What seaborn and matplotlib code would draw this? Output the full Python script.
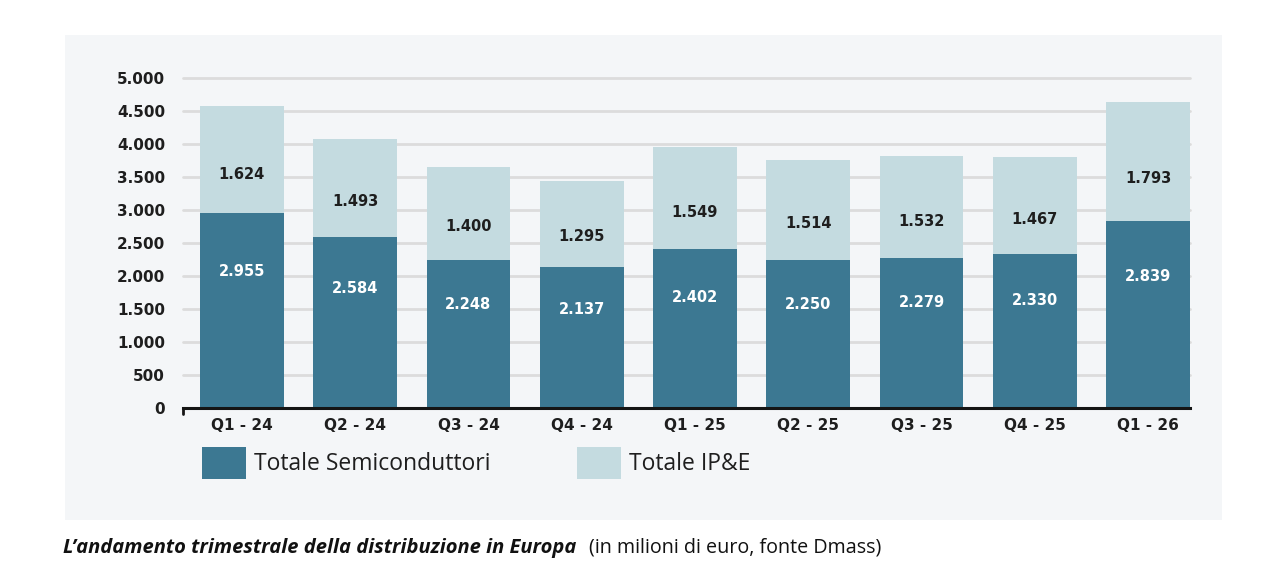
import matplotlib
matplotlib.use("Agg")
import matplotlib.pyplot as plt
from matplotlib.patches import Patch, Rectangle
from matplotlib.lines import Line2D
import seaborn as sns
import pandas as pd

# ---- data ----
quarters = ["Q1 - 24", "Q2 - 24", "Q3 - 24", "Q4 - 24", "Q1 - 25",
            "Q2 - 25", "Q3 - 25", "Q4 - 25", "Q1 - 26"]
semiconduttori = [2955, 2584, 2248, 2137, 2402, 2250, 2279, 2330, 2839]
ipe = [1624, 1493, 1400, 1295, 1549, 1514, 1532, 1467, 1793]
y_ticks = [0, 500, 1000, 1500, 2000, 2500, 3000, 3500, 4000, 4500, 5000]
series_names = ["Totale Semiconduttori", "Totale IP&E"]
caption_main = "L\u2019andamento trimestrale della distribuzione in Europa"
caption_note = "(in milioni di euro, fonte Dmass)"

DARK = "#3c7892"
LIGHT = "#c4dbe0"
PANEL = "#f4f6f8"
GRID = "#dcdcdc"
TXT = "#1e1e1e"

sns.set_theme(style="white")
plt.rcParams["font.family"] = ["DejaVu Sans"]

def fmt(v):
    return f"{v:,}".replace(",", ".")

df = pd.DataFrame({"quarter": quarters, "semi": semiconduttori, "ipe": ipe})
df["total"] = df["semi"] + df["ipe"]

fig = plt.figure(figsize=(12.66, 5.82), dpi=100)
fig.patch.set_facecolor("white")
panel = Rectangle((65 / 1266, 1 - 520 / 582), (1222 - 65) / 1266, (520 - 35) / 582,
                  transform=fig.transFigure, facecolor=PANEL, edgecolor="none", zorder=-5)
fig.patches.append(panel)

ax = fig.add_axes([183 / 1266, 1 - 408 / 582, (1190 - 183) / 1266, (408 - 78) / 582])
ax.set_zorder(2)
ax.set_facecolor("none")

sns.barplot(data=df, x="quarter", y="total", color=LIGHT, saturation=1, width=0.74,
            linewidth=0, edgecolor="none", ax=ax, zorder=3)
sns.barplot(data=df, x="quarter", y="semi", color=DARK, saturation=1, width=0.74,
            linewidth=0, edgecolor="none", ax=ax, zorder=4)

ax.set_xlim(-0.52, len(quarters) - 1 + 0.37)
ax.set_ylim(0, 5000)
ax.set_yticks(y_ticks)
ax.set_yticklabels([fmt(v) for v in y_ticks], fontsize=11, fontweight="bold", color=TXT)
ax.set_xticks(range(len(quarters)))
ax.set_xticklabels(quarters, fontsize=11, fontweight="bold", color=TXT)
ax.tick_params(axis="y", length=0, pad=13)
ax.tick_params(axis="x", length=0, pad=7)
ax.set_xlabel("")
ax.set_ylabel("")
for yv in y_ticks[1:]:
    ax.axhline(yv, color=GRID, lw=2, zorder=1, clip_on=False)

for s in ["top", "right", "left"]:
    ax.spines[s].set_visible(False)
ax.spines["bottom"].set_color("#151515")
ax.spines["bottom"].set_linewidth(2.2)
ax.spines["bottom"].set_zorder(5)
ax.add_line(Line2D([0, 0], [0, -0.018], transform=ax.transAxes, color="#151515",
                   lw=2, clip_on=False))

# value labels
for i, (s, p) in enumerate(zip(df["semi"], df["ipe"])):
    ax.text(i, s * 0.70, fmt(s), ha="center", va="center", color="white",
            fontsize=10.5, fontweight="bold", zorder=6)
    ax.text(i, s + p * 0.36, fmt(p), ha="center", va="center", color=TXT,
            fontsize=10.5, fontweight="bold", zorder=6)

# legend
handles = [Patch(facecolor=DARK, edgecolor="none"), Patch(facecolor=LIGHT, edgecolor="none")]
leg = fig.legend(handles, series_names, loc="upper left",
                 bbox_to_anchor=(202 / 1266, 1 - 447 / 582), ncol=2, frameon=False,
                 prop={"family": "Open Sans", "size": 16.5},
                 handlelength=1.9, handleheight=1.75, handletextpad=0.35,
                 columnspacing=3.8, borderaxespad=0, borderpad=0)
for t in leg.get_texts():
    t.set_color(TXT)

# caption
t1 = fig.text(63 / 1266, 1 - 553 / 582, caption_main, fontsize=14.5, fontstyle="italic",
              fontweight="bold", family="Open Sans", color="#111111", va="baseline")
ax.annotate(caption_note, xy=(1, 0), xycoords=t1, xytext=(9, 0),
            textcoords="offset points", fontsize=14.2, family="Open Sans",
            color="#111111", va="bottom", annotation_clip=False)

fig.savefig("out.png", dpi=100, facecolor="white")
